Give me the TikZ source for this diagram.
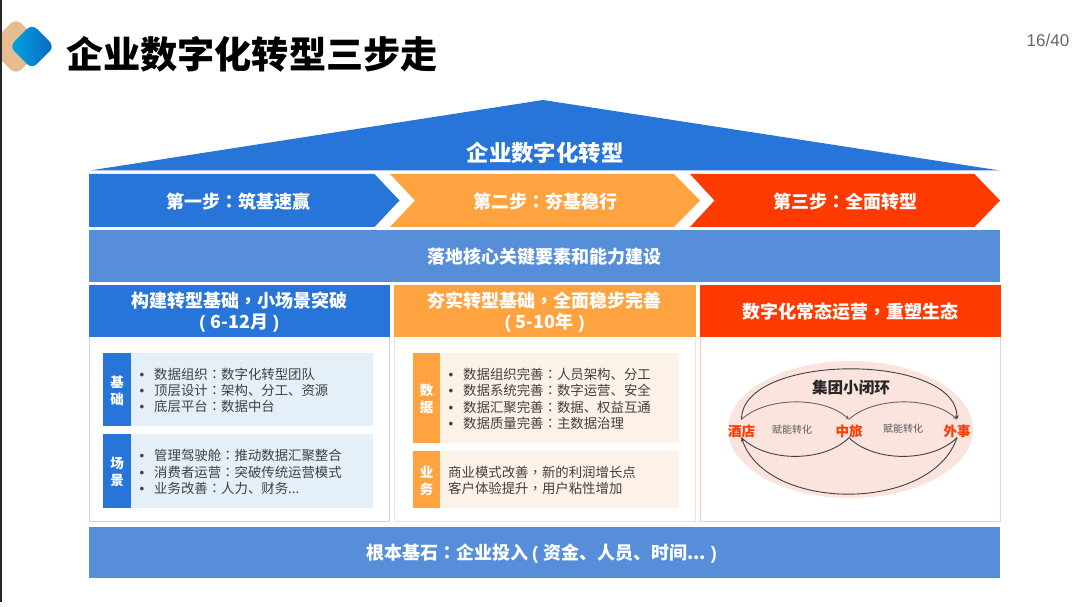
\documentclass[tikz,border=0pt]{standalone}
\usepackage{fontspec}
\usepackage{xcolor}
\usetikzlibrary{arrows.meta,positioning,shapes.geometric}
\setmainfont{Noto Sans CJK SC}
\newfontfamily\punctfont{Noto Sans CJK TC}
\newfontfamily\latinfont{Liberation Sans}
\definecolor{stepBlue}{HTML}{2775D8}
\definecolor{stepOrange}{HTML}{FFA340}
\definecolor{stepRed}{HTML}{FF3A00}
\definecolor{bandBlue}{HTML}{568ED9}
\definecolor{panelBlue}{HTML}{E5EFF8}
\definecolor{panelOrange}{HTML}{FDF2E8}
\definecolor{loopFill}{HTML}{FBE4DD}
\definecolor{edgeBlue}{HTML}{C3D6EC}
\definecolor{edgeOrange}{HTML}{F8DFC6}
\definecolor{edgeRed}{HTML}{F4CDBE}
\definecolor{bodyText}{HTML}{404040}
\definecolor{logoTan}{HTML}{E6BC92}
\definecolor{logoCyan}{HTML}{00A6E6}
\definecolor{logoBlue}{HTML}{0B68BC}
\newcommand{\Cln}{{\punctfont ：}}
\newcommand{\Cma}{{\punctfont ，}}
\newcommand{\Bul}{\makebox[14.5pt][l]{\latinfont •}}
\newcommand{\Opn}{{\latinfont (}\hspace{5pt}}
\newcommand{\Cls}{\hspace{5pt}{\latinfont )}}
\newcommand{\PlaceBox}[6]{%
  % #1=name  #2,#3=top left  #4,#5=bottom right  #6=style
  \pgfmathsetmacro{\boxW}{#4-#2}%
  \pgfmathsetmacro{\boxH}{#5-#3}%
  \node[boxnode, #6, minimum width=\boxW pt, minimum height=\boxH pt]
    (#1) at ({(#2+#4)/2},{(#3+#5)/2}) {};
}
\begin{document}
\begin{tikzpicture}[
  x=1pt, y=-1pt,
  >=Stealth,
  boxnode/.style = {rectangle, inner sep=0pt, outer sep=0pt},
  lift/.style    = {inner sep=0pt, align=center, yshift=-1pt},
  heading/.style = {lift, text=white, font=\fontsize{18}{21.5}\selectfont\bfseries},
  tag/.style     = {lift, text=white, font=\fontsize{13.5}{17}\selectfont\bfseries},
  items/.style   = {anchor=west, align=left, inner sep=0pt, yshift=-1pt, text=bodyText,
                    font=\fontsize{13.4}{16.3}\selectfont},
  place/.style   = {inner sep=0pt, text=stepRed, font=\fontsize{13.5}{16}\selectfont\bfseries},
  note/.style    = {inner sep=0pt, text=black!65, font=\fontsize{10}{12}\selectfont},
  loopwire/.style = {line width=0.9pt, black!75, -{Stealth[length=4pt,width=3.5pt]}},
]

% ----------------------------------------------------------------
% Page
% ----------------------------------------------------------------
\useasboundingbox (0,0) rectangle (1080,607);
\fill[white] (0,0) rectangle (1080,607);
\begin{scope}
  \clip (0,0) rectangle (60,90);
  \fill[rounded corners=8pt, logoTan]
    (16,18) -- (44,46.5) -- (16,75) -- (-12,46.5) -- cycle;
  \path[rounded corners=7pt, left color=logoCyan, right color=logoBlue]
    (32,24) -- (54.5,46.5) -- (32,69) -- (9.5,46.5) -- cycle;
\end{scope}
\fill[black!85] (0,0) rectangle (2,602);

\node[inner sep=0pt, font=\fontsize{37.2}{40}\selectfont\bfseries] (pagetitle) at (252,54)
  {企业数字化转型三步走};
\node[inner sep=0pt, text=black!60, font=\latinfont\fontsize{17}{20}\selectfont] (pagenum) at (1048,40) {16/40};

% ----------------------------------------------------------------
% Roof and steps
% ----------------------------------------------------------------
\fill[stepBlue] (90,170.5) -- (543,100) -- (1000,170.5) -- cycle;
\node[lift, text=white, font=\fontsize{22.4}{26}\selectfont\bfseries] (roof) at (545,152)
  {企业数字化转型};

\fill[stepBlue] (89,174) -- (374.5,174) -- (399.5,200.5) -- (374.5,227) -- (89,227) -- cycle;
\fill[stepOrange] (390,174) -- (674,174) -- (700,200.5) -- (674,227) -- (390,227) -- (415,200.5) -- cycle;
\fill[stepRed] (690,174) -- (974.5,174) -- (1000,200.5) -- (974.5,227) -- (690,227) -- (714.5,200.5) -- cycle;
\node[heading] (stepone) at (238,200.5) {第一步\Cln 筑基速赢};
\node[heading] (steptwo) at (545,200.5) {第二步\Cln 夯基稳行};
\node[heading] (stepthree) at (845,200.5) {第三步\Cln 全面转型};

\PlaceBox{core}{89}{230}{1000}{282}{fill=bandBlue}
\node[heading] (coretext) at (core) {落地核心关键要素和能力建设};

% ----------------------------------------------------------------
% Three columns
% ----------------------------------------------------------------
\PlaceBox{bodyA}{89.5}{300}{389}{521}{draw=edgeBlue, fill=white, line width=1pt}
\PlaceBox{bodyB}{394.5}{300}{695}{521}{draw=edgeOrange, fill=white, line width=1pt}
\PlaceBox{bodyC}{700}{300}{1000}{521}{draw=edgeRed, fill=white, line width=1pt}
\PlaceBox{headA}{89}{285}{389.5}{337}{fill=stepBlue}
\PlaceBox{headB}{394}{285}{695.5}{337}{fill=stepOrange}
\PlaceBox{headC}{699.5}{285}{1000.5}{337}{fill=stepRed}
\node[heading] (headtextA) at (headA) {构建转型基础\Cma 小场景突破\\\Opn 6-12月\Cls};
\node[heading] (headtextB) at (headB) {夯实转型基础\Cma 全面稳步完善\\\Opn 5-10年\Cls};
\node[heading] (headtextC) at (headC) {数字化常态运营\Cma 重塑生态};

% Column 1
\PlaceBox{panelA}{131}{353}{373}{426}{fill=panelBlue}
\PlaceBox{panelB}{131}{434}{373}{508}{fill=panelBlue}
\PlaceBox{tagA}{103}{353}{131}{426}{fill=stepBlue}
\PlaceBox{tagB}{103}{434}{131}{508}{fill=stepBlue}
\node[tag] (tagtextA) at (tagA) {基\\础};
\node[tag] (tagtextB) at (tagB) {场\\景};
\node[items, right=8.5pt of tagA] (itemsA) {\Bul 数据组织\Cln 数字化转型团队\\\Bul 顶层设计\Cln 架构、分工、资源\\\Bul 底层平台\Cln 数据中台};
\node[items, right=8.5pt of tagB] (itemsB) {\Bul 管理驾驶舱\Cln 推动数据汇聚整合\\\Bul 消费者运营\Cln 突破传统运营模式\\\Bul 业务改善\Cln 人力、财务...};

% Column 2
\PlaceBox{panelC}{440}{353}{679}{443}{fill=panelOrange}
\PlaceBox{panelD}{440}{451}{679}{508}{fill=panelOrange}
\PlaceBox{tagC}{413}{353}{440}{443}{fill=stepOrange}
\PlaceBox{tagD}{413}{451}{440}{508}{fill=stepOrange}
\node[tag] (tagtextC) at (tagC) {数\\据};
\node[tag] (tagtextD) at (tagD) {业\\务};
\node[items, right=8.5pt of tagC] (itemsC) {\Bul 数据组织完善\Cln 人员架构、分工\\\Bul 数据系统完善\Cln 数字运营、安全\\\Bul 数据汇聚完善\Cln 数据、权益互通\\\Bul 数据质量完善\Cln 主数据治理};
\node[items, right=8pt of tagD] (itemsD) {商业模式改善\Cma 新的利润增长点\\客户体验提升\Cma 用户粘性增加};

% Column 3
\node[ellipse, fill=loopFill, inner sep=0pt, minimum width=245pt, minimum height=137pt]
  (loopbg) at (850.5,429.5) {};
\node[lift, text=black!85, font=\fontsize{15.6}{18}\selectfont\bfseries] (looptitle) at (851,387) {集团小闭环};
\node[place] (hotel) at (741.5,431) {酒店};
\node[place] (travel) at (849,431) {中旅};
\node[place] (foreign) at (957,431) {外事};
\node[note] (enableA) at (792,430) {赋能转化};
\node[note] (enableB) at (903,429) {赋能转化};

\coordinate (hoteltop) at ([yshift=5pt]hotel.north);
\coordinate (traveltop) at ([yshift=5pt]travel.north);
\coordinate (foreigntop) at ([yshift=5pt]foreign.north);

\draw[loopwire] (hoteltop) .. controls +(0,-67) and +(0,-67) .. (foreigntop);
\draw[loopwire, black!60] (hoteltop) .. controls +(25,-23) and +(-25,-23) .. (traveltop);
\draw[loopwire, black!60] (traveltop) .. controls +(25,-23) and +(-25,-23) .. (foreigntop);
\draw[loopwire, -] (hotel.south) .. controls +(25,25) and +(-25,25) .. (travel.south);
\draw[loopwire, -] (travel.south) .. controls +(25,25) and +(-25,25) .. (foreign.south);
\draw[loopwire] (foreign.south) .. controls +(-25,75) and +(25,75) .. (hotel.south);

% ----------------------------------------------------------------
% Base
% ----------------------------------------------------------------
\PlaceBox{base}{89}{527}{1000}{578}{fill=bandBlue}
\node[heading, xshift=-3pt] (basetext) at (base) {根本基石\Cln 企业投入\hspace{4pt}\Opn 资金、人员、时间...\Cls};

\end{tikzpicture}
\end{document}
